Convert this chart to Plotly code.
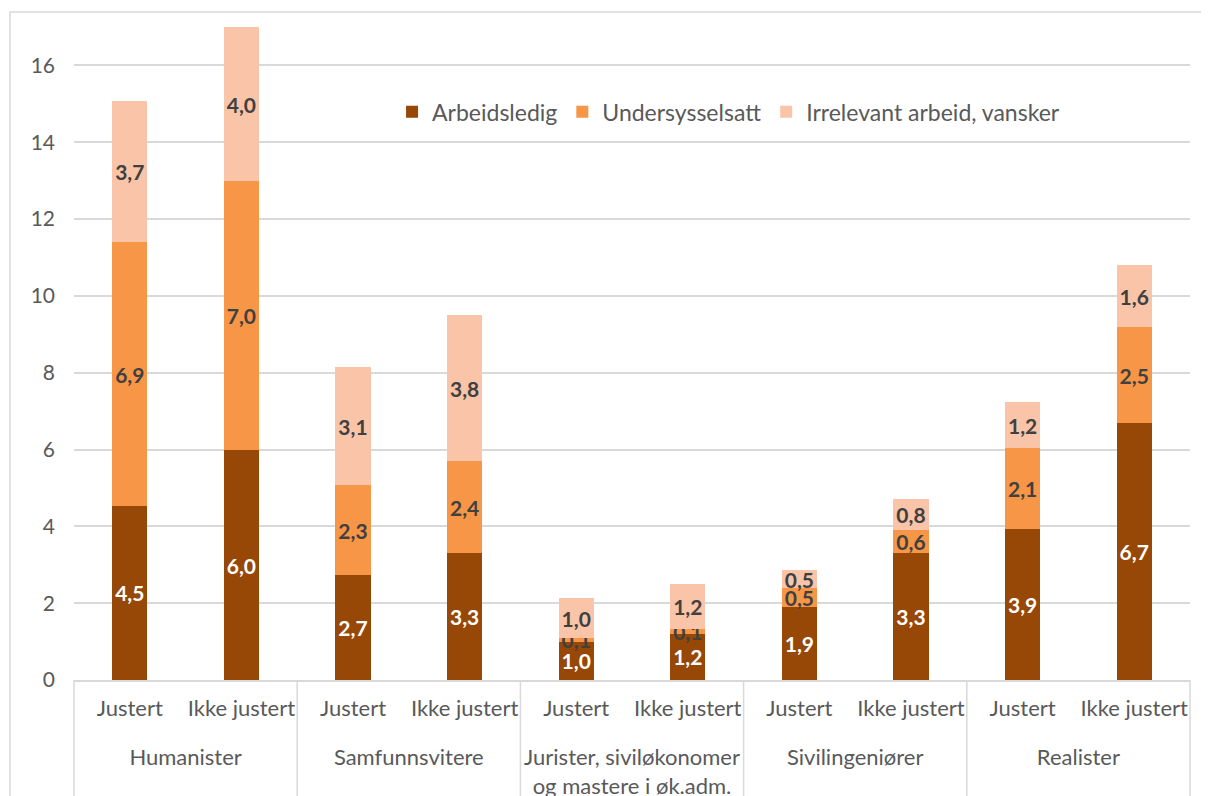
import plotly.graph_objects as go

group_names = ["Humanister", "Samfunnsvitere",
               "Jurister, siviløkonomer<br>og mastere i øk.adm.",
               "Sivilingeniører", "Realister"]
variant_names = ["Justert", "Ikke justert"]

arbeidsledig = [4.53, 5.98, 2.73, 3.30, 1.00, 1.20, 1.90, 3.30, 3.93, 6.69]
undersysselsatt = [6.87, 7.00, 2.34, 2.40, 0.09, 0.13, 0.49, 0.60, 2.11, 2.49]
irrelevant = [3.67, 4.01, 3.07, 3.80, 1.04, 1.17, 0.47, 0.81, 1.19, 1.62]

series = [
    ("Arbeidsledig", arbeidsledig, "#974706", "white"),
    ("Undersysselsatt", undersysselsatt, "#F79646", "#404040"),
    ("Irrelevant arbeid, vansker", irrelevant, "#F9C4A8", "#404040"),
]

FONT = "Lato, 'Open Sans', sans-serif"
N_G = len(group_names)
N_V = len(variant_names)
idx = list(range(N_G * N_V))
bar_labels = [variant_names[i % N_V] for i in idx]
group_centers = [g * N_V + (N_V - 1) / 2 for g in range(N_G)]

fig = go.Figure()
for name, vals, color, tcolor in series:
    fig.add_trace(go.Bar(
        name=name, x=idx, y=vals,
        marker=dict(color=color, line=dict(width=0)),
        texttemplate="<b>%{y:.1f}</b>", textposition="inside", textangle=0,
        insidetextanchor="middle", constraintext="none",
        textfont=dict(color=tcolor, size=21, family=FONT),
        hoverinfo="skip",
    ))

# the html page has an 8px body margin; size the figure to fit the window
fig.update_layout(
    barmode="stack",
    bargap=0.686,
    separators=", ",
    width=1201, height=788,
    margin=dict(l=66, r=19, t=19, b=116, autoexpand=False),
    paper_bgcolor="white", plot_bgcolor="white",
    font=dict(family=FONT, size=22, color="#595959"),
    uniformtext=dict(minsize=21, mode="show"),
    legend=dict(orientation="h", x=0.285, y=0.87, xanchor="left", yanchor="middle",
                font=dict(size=23, color="#595959"), bgcolor="rgba(0,0,0,0)",
                traceorder="normal"),
    showlegend=True,
)
fig.update_yaxes(range=[0, 17], dtick=2, tick0=0, showgrid=True, gridcolor="#D9D9D9",
                 gridwidth=1.5, zeroline=False, showline=False, ticks="", automargin=False,
                 tickfont=dict(size=21, color="#595959"), ticklabelstandoff=18)
fig.update_xaxes(range=[-0.5, N_G * N_V - 0.5], tickmode="array", tickvals=idx,
                 ticktext=bar_labels, showline=True, linecolor="#D9D9D9", linewidth=1.5,
                 showgrid=False, zeroline=False, ticks="", automargin=False,
                 tickfont=dict(size=22, color="#595959"), ticklabelstandoff=8)
fig.update_layout(xaxis2=dict(
    overlaying="x", side="bottom", anchor="y", range=[-0.5, N_G * N_V - 0.5],
    tickmode="array", tickvals=group_centers, ticktext=group_names,
    showline=False, showgrid=False, zeroline=False, ticks="", automargin=False,
    tickfont=dict(size=22, color="#595959"), ticklabelstandoff=62,
))
# invisible helper trace so the group axis is drawn
fig.add_trace(go.Scatter(x=group_centers, y=[None] * N_G, xaxis="x2", showlegend=False,
                         hoverinfo="skip", mode="markers"))

# group dividers below the axis (category boundaries)
for i in range(N_G + 1):
    fig.add_shape(type="line", xref="paper", yref="paper",
                  x0=i / N_G, x1=i / N_G, y0=0, y1=-0.3,
                  line=dict(color="#D9D9D9", width=1.5))

# outer chart frame
fig.add_shape(type="rect", xref="paper", yref="paper",
              x0=(2 - 66) / 1116, x1=1.05, y0=-0.3, y1=1 + (19 - 4) / 653,
              line=dict(color="#D9D9D9", width=1.5), fillcolor="rgba(0,0,0,0)", layer="below")

fig.write_html("out.html")
